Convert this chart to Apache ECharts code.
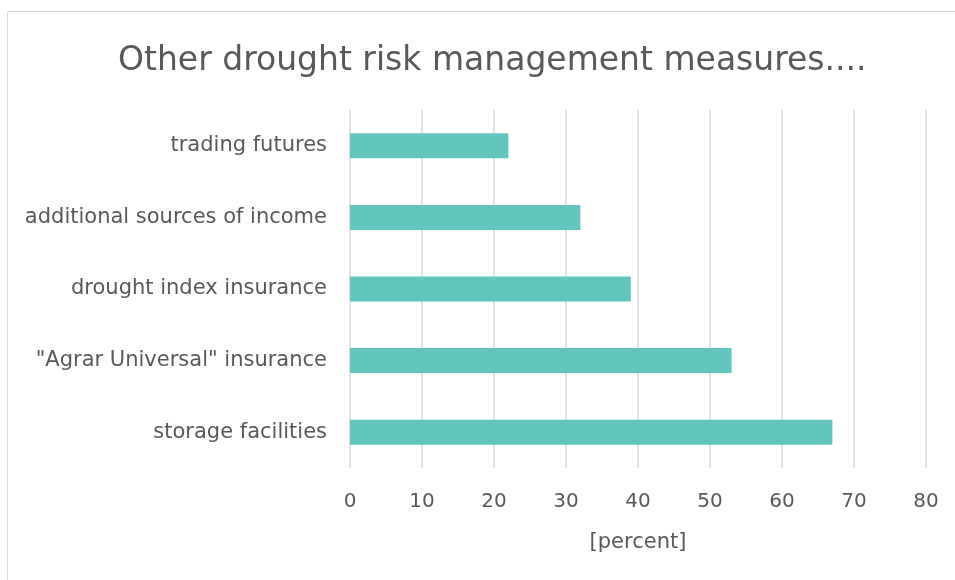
<!DOCTYPE html>
<html>
<head>
<meta charset="utf-8">
<script src="https://cdn.jsdelivr.net/npm/echarts@6/dist/echarts.min.js"></script>
<style>
  html, body { margin: 0; padding: 0; background: #fff; }
  #main { width: 955px; height: 580px; }
</style>
</head>
<body>
<div id="main"></div>
<script>
// categories bottom -> top (category axis on y starts at the bottom)
var categories = ['storage facilities', '"Agrar Universal" insurance', 'drought index insurance', 'additional sources of income', 'trading futures'];
var values = [67, 53, 39, 32, 22];
var xTicks = [0, 80, 10]; // min, max, interval

var fontFam = 'DejaVu Sans, sans-serif';
var textColor = '#595959';

var option = {
    backgroundColor: '#fff',
    animation: false,
    title: {
        text: 'Other drought risk management measures....',
        left: 113,
        top: 40,
        textStyle: {
            fontFamily: fontFam,
            fontSize: 33,
            fontWeight: 'normal',
            color: textColor
        }
    },
    graphic: [
        {
            type: 'rect',
            shape: {x: 7.5, y: 11.5, width: 1000, height: 1000},
            style: {fill: 'none', stroke: '#d9d9d9', lineWidth: 1},
            silent: true
        }
    ],
    grid: {
        left: 350,
        right: 29,
        top: 110,
        bottom: 112
    },
    xAxis: {
        type: 'value',
        min: xTicks[0],
        max: xTicks[1],
        interval: xTicks[2],
        name: '[percent]',
        nameLocation: 'middle',
        nameGap: 64,
        nameTextStyle: {fontFamily: fontFam, fontSize: 21, color: textColor},
        axisLine: {show: false},
        axisTick: {show: false},
        axisLabel: {fontFamily: fontFam, fontSize: 20, color: textColor, margin: 24},
        splitLine: {lineStyle: {color: '#d9d9d9', width: 1.5}}
    },
    yAxis: {
        type: 'category',
        data: categories,
        axisLine: {show: false},
        axisTick: {show: false},
        axisLabel: {fontFamily: fontFam, fontSize: 21, color: textColor, margin: 23}
    },
    series: [
        {
            type: 'bar',
            data: values,
            barWidth: 25,
            itemStyle: {color: '#62c6be'}
        }
    ]
};

var myChart = echarts.init(document.getElementById('main'));
myChart.setOption(option);
</script>
</body>
</html>
